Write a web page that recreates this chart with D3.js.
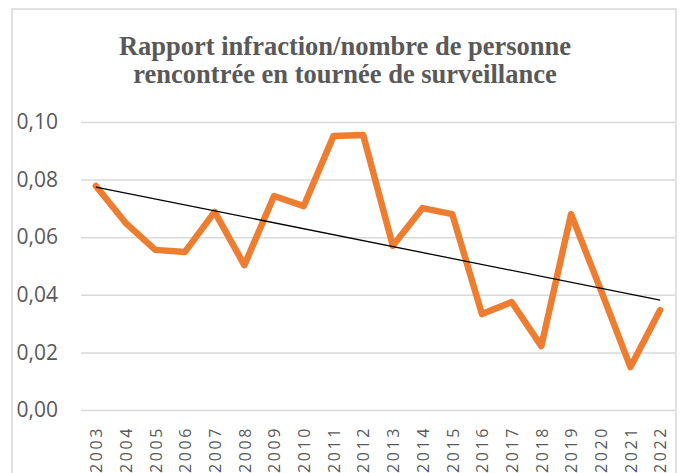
<!DOCTYPE html>
<html>
<head>
<meta charset="utf-8">
<script src="https://cdn.jsdelivr.net/npm/d3@7"></script>
<style>
  body { margin: 0; background: #ffffff; }
  svg { display: block; }
</style>
</head>
<body>
<svg id="Chart"></svg>
<script>
let years = ["2003", "2004", "2005", "2006", "2007", "2008", "2009", "2010", "2011", "2012",
             "2013", "2014", "2015", "2016", "2017", "2018", "2019", "2020", "2021", "2022"]
let ratios = [0.0778, 0.0650, 0.0556, 0.0549, 0.0688, 0.0503, 0.0743, 0.0708, 0.0951, 0.0955,
              0.0570, 0.0701, 0.0680, 0.0333, 0.0375, 0.0222, 0.0680, 0.0417, 0.0149, 0.0347]
let yTicks = [0, 0.02, 0.04, 0.06, 0.08, 0.10]
let titleLines = ["Rapport infraction/nombre de personne", "rencontrée en tournée de surveillance"]

let config = {}

function initConfig() {
    let width = 683
    let height = 473
    let plot = {left: 81, right: 675, top: 122, bottom: 410}
    let lineColor = "#ED7D31"
    let gridColor = "#d9d9d9"
    let textColor = "#595959"
    let container = d3.select("#Chart")
        .attr("width", width)
        .attr("height", height)
    config = {width, height, plot, lineColor, gridColor, textColor, container}
}

function getScales() {
    let {plot} = config
    let x = d3.scalePoint()
        .domain(years)
        .range([plot.left, plot.right])
        .padding(0.5)
    let y = d3.scaleLinear()
        .domain([0, 0.10])
        .range([plot.bottom, plot.top])
    return {x, y}
}

function drawFrame() {
    let {container, height, gridColor} = config
    // chart border, bottom edge is cut off in the picture
    container.append("path")
        .attr("d", `M12,${height + 5}V9H676V${height + 5}`)
        .attr("fill", "none")
        .attr("stroke", gridColor)
        .attr("stroke-width", 1.5)
}

function drawAxes(x, y) {
    let {container, plot, gridColor, textColor} = config
    let locale = d3.formatLocale({decimal: ",", thousands: " ", grouping: [3], currency: ["", " €"]})
    let fmt = locale.format(".2f")

    let yAxis = container.append("g")
        .attr("transform", `translate(${plot.left},0)`)
        .call(d3.axisLeft(y).tickValues(yTicks).tickFormat(fmt)
            .tickSize(-(plot.right - plot.left)).tickPadding(23))
    yAxis.select(".domain").remove()
    yAxis.selectAll(".tick line")
        .attr("stroke", gridColor)
        .attr("stroke-width", 1.5)
    yAxis.selectAll(".tick text")
        .attr("fill", textColor)
        .attr("font-family", "Open Sans")
        .attr("font-size", "21px")

    let xAxis = container.append("g")
        .attr("transform", `translate(0,${plot.bottom})`)
        .call(d3.axisBottom(x).tickSize(0).tickPadding(0))
    xAxis.select(".domain").remove()
    xAxis.selectAll(".tick text")
        .attr("fill", textColor)
        .attr("font-family", "Open Sans")
        .attr("font-size", "16px")
        .attr("letter-spacing", "2.6px")
        .attr("text-anchor", "end")
        .attr("transform", "translate(0,16) rotate(-90)")
        .attr("x", 0)
        .attr("y", 0)
        .attr("dy", "0.36em")
}

function drawTrend(x, y) {
    let {container} = config
    // least squares fit over the year index, like the spreadsheet trendline
    let n = ratios.length
    let idx = d3.range(n)
    let mx = d3.mean(idx), my = d3.mean(ratios)
    let slope = d3.sum(idx, i => (i - mx) * (ratios[i] - my)) / d3.sum(idx, i => (i - mx) * (i - mx))
    let icpt = my - slope * mx
    let trend = [0, n - 1].map(i => [years[i], icpt + slope * i])

    container.append("path")
        .datum(trend)
        .attr("d", d3.line().x(d => x(d[0])).y(d => y(d[1])))
        .attr("fill", "none")
        .attr("stroke", "#000000")
        .attr("stroke-width", 1.3)
}

function drawLine(x, y) {
    let {container, lineColor} = config
    container.append("path")
        .datum(years.map((d, i) => [d, ratios[i]]))
        .attr("d", d3.line().x(d => x(d[0])).y(d => y(d[1])))
        .attr("fill", "none")
        .attr("stroke", lineColor)
        .attr("stroke-width", 6.5)
        .attr("stroke-linejoin", "round")
        .attr("stroke-linecap", "round")
}

function drawTitle() {
    let {container, textColor} = config
    container.selectAll(".title").data(titleLines)
        .enter().append("text")
        .attr("class", "title")
        .attr("x", 345)
        .attr("y", (d, i) => 55 + i * 28)
        .attr("text-anchor", "middle")
        .attr("font-family", "Liberation Serif")
        .attr("font-weight", "bold")
        .attr("font-size", "26.5px")
        .attr("fill", textColor)
        .text(d => d)
}

function init() {
    initConfig()
    let {x, y} = getScales()
    drawFrame()
    drawAxes(x, y)
    drawLine(x, y)
    drawTrend(x, y)
    drawTitle()
}

window.addEventListener("load", init)
</script>
</body>
</html>
